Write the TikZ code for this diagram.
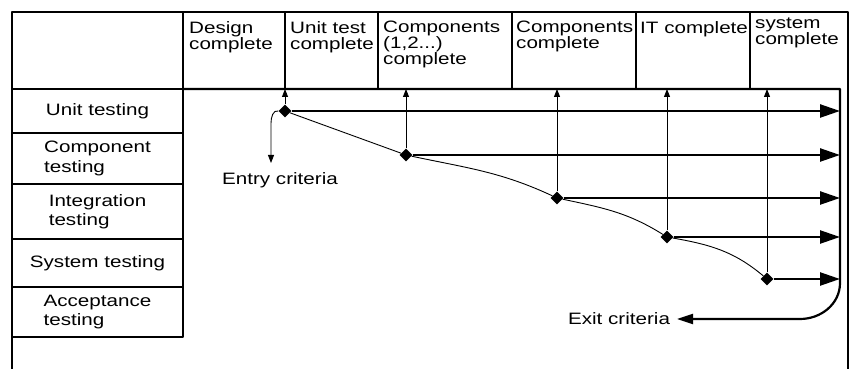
\documentclass[tikz,border=0pt]{standalone}
\usepackage{fontspec}
\setmainfont{Liberation Sans}[FakeStretch=1.25]
\usetikzlibrary{arrows.meta,shapes.geometric}

\begin{document}
\begin{tikzpicture}[x=1pt, y=1pt, line join=round, >={Triangle[length=8pt,width=6pt]},
  font=\fontsize{16.5}{16}\selectfont]
  \tikzset{
    rowbox/.style={draw, line width=1.3pt, minimum width=171pt, align=left, inner sep=0pt,
      font=\fontsize{16.5}{19.5}\selectfont},
    headtxt/.style={anchor=north west, align=left, inner sep=0pt},
    mstone/.style={diamond, fill=black, minimum size=13pt, inner sep=0pt},
    gate/.style={line width=0.9pt, ->},
    flow/.style={line width=2.4pt, -{Triangle[length=20pt,width=13pt]}},
    outflow/.style={line width=2.2pt, -{Triangle[length=16pt,width=10pt]}},
  }
  \def\ytop{357}\def\yhead{280}\def\xr{840}
  \useasboundingbox (0,0) rectangle (851,369);
  \coordinate (hd) at (0,\yhead);
  \coordinate (rt) at (\xr,0);
  % frame and header grid
  \draw[line width=1.6pt] (12,0) -- (12,\ytop) -- (848,\ytop) -- (848,0);
  \foreach \x in {183,285,378,512,636,750} \draw[line width=1.1pt] (\x,\ytop) -- (\x,\yhead);
  \node[headtxt] (hdesign) at (189,348) {Design\\complete};
  \node[headtxt] (hunit) at (290,348) {Unit test\\complete};
  \node[headtxt] (hcomp) at (383,348) {Components\\(1,2...)\\complete};
  \node[headtxt] (hcomps) at (516,348) {Components\\complete};
  \node[headtxt] (hit) at (640,348) {IT complete};
  \node[headtxt] (hsys) at (755,351) {system\\complete};
  % test levels
  \foreach \i/\ya/\yb/\txt in {1/280/236/Unit testing, 2/236/185/{Component\\testing},
      3/185/130/{Integration\\testing}, 4/130/82/System testing, 5/82/32/{Acceptance\\testing}}
    \node[rowbox, minimum height={(\ya-\yb)*1pt}] (row\i) at (97.5,{(\ya+\yb)/2}) {\txt};
  % milestones
  \node[mstone] (m1) at (285,258) {};
  \node[mstone] (m2) at (406,214) {};
  \node[mstone] (m3) at (557,171) {};
  \node[mstone] (m4) at (667,132) {};
  \node[mstone] (m5) at (767,90) {};
  \foreach \m in {m1,m2,m3,m4,m5} {
    \draw[gate] (\m.north) -- (\m |- hd);
    \draw[flow] (\m.east) -- (\m -| rt);
  }
  \draw[line width=0.9pt] (m1) -- (m2) to[out=-12,in=155] (m3) to[out=-12,in=148] (m4)
    to[out=-10,in=140] (m5);
  % entry and exit criteria
  \coordinate (entry) at (271,206);
  \node[inner sep=0pt, anchor=north] (entrytxt) at (280,197) {Entry criteria};
  \draw[gate] (m1.west) to[out=165,in=90] (271,246) -- (entry);
  \node[anchor=east, inner sep=0pt, outer sep=7pt] (exittxt) at (677,50) {Exit criteria};
  \draw[outflow] (183,\yhead) -- (\xr,\yhead) -- (\xr,86) to[out=-90,in=0] (800,50) -- (exittxt.east);
\end{tikzpicture}
\end{document}
